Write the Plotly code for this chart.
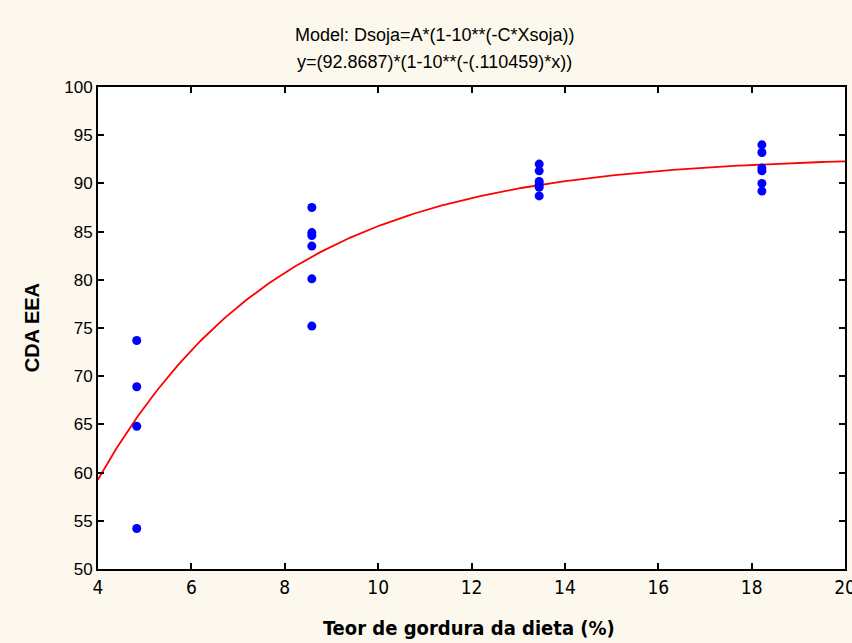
import numpy as np
import plotly.graph_objects as go

# Observed digestibility by dietary fat level
fat_level = [4.83, 4.83, 4.83, 4.83,
             8.58, 8.58, 8.58, 8.58, 8.58, 8.58,
             13.45, 13.45, 13.45, 13.45, 13.45, 13.45,
             18.22, 18.22, 18.22, 18.22, 18.22, 18.22]
cda_eea = [73.7, 68.9, 64.8, 54.2,
           87.5, 84.9, 84.6, 83.5, 80.1, 75.2,
           92.0, 91.3, 90.2, 89.9, 89.6, 88.7,
           94.0, 93.2, 91.6, 91.3, 90.0, 89.2]

# Fitted model parameters
A = 92.8687
C = 0.110459

x_ticks = [4, 6, 8, 10, 12, 14, 16, 18, 20]
y_ticks = [50, 55, 60, 65, 70, 75, 80, 85, 90, 95, 100]

x_fit = np.linspace(4, 20, 300)
y_fit = A * (1 - 10 ** (-C * x_fit))

NARROW = "DejaVu Sans Condensed, Liberation Sans Narrow, Liberation Sans, Arial"

fig = go.Figure()
fig.add_trace(go.Scatter(x=x_fit, y=y_fit, mode="lines",
                         line=dict(color="#ff0000", width=1.8),
                         hoverinfo="skip", showlegend=False))
fig.add_trace(go.Scatter(x=fat_level, y=cda_eea, mode="markers",
                         marker=dict(color="#0000ff", size=9),
                         showlegend=False))

fig.update_layout(
    width=852, height=643,
    margin=dict(l=98, r=7, t=87, b=74, autoexpand=False),
    paper_bgcolor="#fdf8ed",
    plot_bgcolor="#ffffff",
    font=dict(family="Liberation Sans, Arial, sans-serif", color="#000000"),
    annotations=[
        dict(text="Model: Dsoja=A*(1-10**(-C*Xsoja))", xref="paper", yref="paper",
             x=0.451, y=1.108, xanchor="center", yanchor="middle",
             showarrow=False, font=dict(size=18)),
        dict(text="y=(92.8687)*(1-10**(-(.110459)*x))", xref="paper", yref="paper",
             x=0.451, y=1.052, xanchor="center", yanchor="middle",
             showarrow=False, font=dict(size=18)),
        dict(text="<b>Teor de gordura da dieta (%)</b>", xref="paper", yref="paper",
             x=0.497, y=-0.122, xanchor="center", yanchor="middle",
             showarrow=False, font=dict(size=20, family=NARROW)),
        dict(text="<b>CDA EEA</b>", xref="paper", yref="paper",
             x=-0.088, y=0.5, xanchor="center", yanchor="middle", textangle=-90,
             showarrow=False, font=dict(size=20)),
    ],
)

fig.update_xaxes(range=[4, 20], tickvals=x_ticks, ticktext=[str(v) for v in x_ticks],
                 ticks="inside", ticklen=6, tickwidth=1.5, tickcolor="#000000",
                 showline=True, linecolor="#000000", linewidth=2, mirror="ticks",
                 showgrid=False, zeroline=False, ticklabeloverflow="allow",
                 automargin=False,
                 tickfont=dict(size=19, family=NARROW))
fig.update_yaxes(range=[50, 100], tickvals=y_ticks, ticktext=[str(v) for v in y_ticks],
                 ticks="inside", ticklen=6, tickwidth=1.5, tickcolor="#000000",
                 showline=True, linecolor="#000000", linewidth=2, mirror="ticks",
                 showgrid=False, zeroline=False, automargin=False,
                 tickfont=dict(size=17))

fig.write_html("out.html")
